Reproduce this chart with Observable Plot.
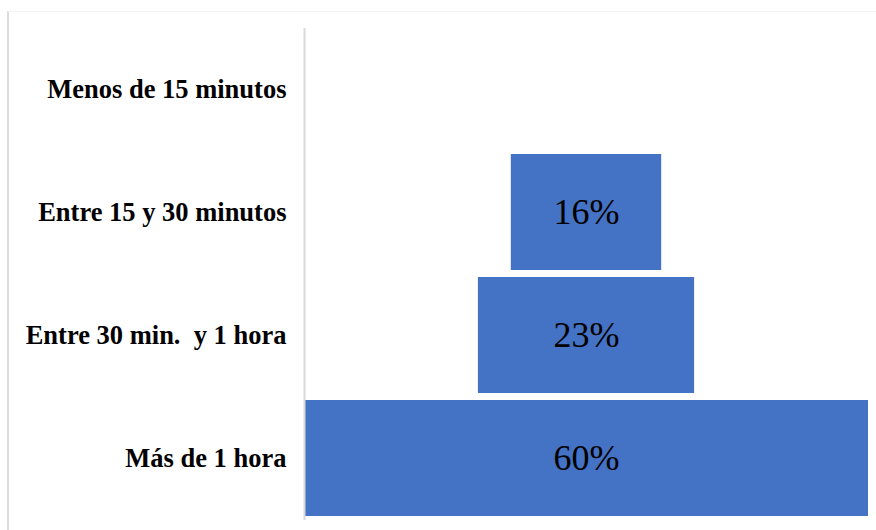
<!DOCTYPE html>
<html>
<head>
<meta charset="utf-8">
<script src="https://cdn.jsdelivr.net/npm/d3@7"></script>
<script src="https://cdn.jsdelivr.net/npm/@observablehq/plot@0.6"></script>
<style>
  html, body { margin: 0; padding: 0; background: #fff; }
  #wrap { position: relative; width: 876px; height: 530px; overflow: hidden; }
  #marco {
    position: absolute; left: 7px; top: 11px; width: 880px; height: 530px;
    border-left: 2px solid #dcdcdc; border-top: 1px solid #f3f3f3;
    pointer-events: none;
  }
  #wrap svg text { white-space: pre; font-family: "Liberation Serif", "Times New Roman", serif; }
</style>
</head>
<body>
<div id="wrap"><div id="marco"></div></div>
<script>
// Tiempo dedicado: categorías de arriba a abajo y su porcentaje
const categorias = [
  "Menos de 15 minutos",
  "Entre 15 y 30 minutos",
  "Entre 30 min.  y 1 hora",
  "Más de 1 hora"
];
const porcentajes = [0, 16, 23, 60];

const datos = categorias.map((c, i) => ({categoria: c, valor: porcentajes[i]}));
const visibles = datos.filter(d => d.valor > 0);
const mitad = d3.max(porcentajes) / 2;
const serif = "Liberation Serif";

const grafico = Plot.plot({
  width: 876,
  height: 530,
  marginLeft: 304,
  marginRight: 8,
  marginTop: 31,
  marginBottom: 14,
  style: {fontFamily: serif, background: "transparent", color: "#000"},
  x: {domain: [-mitad, mitad], axis: null},
  y: {domain: categorias, paddingInner: 0.06, paddingOuter: 0, axis: null},
  marks: [
    // barras centradas (embudo)
    Plot.barX(visibles, {
      y: "categoria",
      x1: d => -d.valor / 2,
      x2: d => d.valor / 2,
      fill: "#4472C4"
    }),
    Plot.text(visibles, {
      y: "categoria",
      x: 0,
      text: d => `${d.valor}%`,
      fontSize: 36,
      fontFamily: serif,
      fill: "#000"
    }),
    Plot.ruleX([-mitad], {stroke: "#d9d9d9", strokeWidth: 2, insetTop: -3, insetBottom: -4}),
    Plot.axisY({
      tickSize: 0,
      tickPadding: 18,
      fontSize: 26.5,
      fontWeight: "bold",
      fontFamily: serif,
      label: null,
      fill: "#000"
    })
  ]
});

document.getElementById("wrap").appendChild(grafico);
</script>
</body>
</html>
